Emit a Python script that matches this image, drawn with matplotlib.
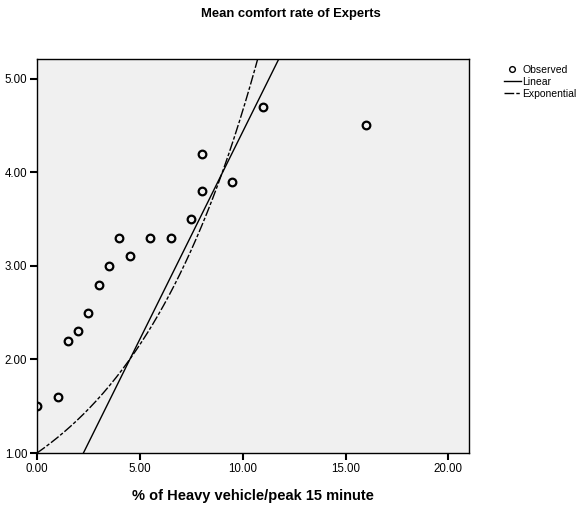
import numpy as np
import matplotlib.pyplot as plt

plt.rcParams['font.family'] = ['Liberation Sans', 'DejaVu Sans']

# % heavy vehicles in peak 15 minutes vs. mean comfort rating given by experts
heavy_pct = np.array([0, 1, 1.5, 2, 2.5, 3, 3.5, 4, 4.5, 5.5, 6.5, 7.5, 8, 8, 9.5, 11, 16])
comfort = np.array([1.5, 1.6, 2.2, 2.3, 2.5, 2.8, 3.0, 3.3, 3.1, 3.3, 3.3, 3.5, 3.8, 4.2, 3.9, 4.7, 4.5])

x_ticks = [0, 5, 10, 15, 20]
y_ticks = [1, 2, 3, 4, 5]

# curve estimation without constant term: y = b*x and y = exp(b*x)
b_lin = np.sum(heavy_pct * comfort) / np.sum(heavy_pct ** 2)
b_exp = np.sum(heavy_pct * np.log(comfort)) / np.sum(heavy_pct ** 2)

xs = np.linspace(0, 21, 400)

fig = plt.figure(figsize=(5.82, 5.11), dpi=100)
ax = fig.add_axes([0.0636, 0.1135, 0.7422, 0.771])
ax.set_facecolor('#f0f0f0')

ax.plot(heavy_pct, comfort, 'o', ms=5.5, mfc='none', mec='black', mew=1.6,
        label='Observed', zorder=3)
ax.plot(xs, b_lin * xs, color='black', lw=1.0, label='Linear')
ax.plot(xs, np.exp(b_exp * xs), color='black', lw=1.0,
        dashes=(7, 1.5, 2.5, 1.5), label='Exponential')

ax.set_xlim(0, 21)
ax.set_ylim(1, 5.21)
ax.set_xticks(x_ticks)
ax.set_yticks(y_ticks)
ax.set_xticklabels([f'{v:.2f}' for v in x_ticks])
ax.set_yticklabels([f'{v:.2f}' for v in y_ticks])
ax.tick_params(direction='out', length=5, width=1.5, labelsize=8.3, pad=2)
for s in ax.spines.values():
    s.set_linewidth(1.0)

ax.set_xlabel('% of Heavy vehicle/peak 15 minute', fontsize=10.5, fontweight='bold',
              labelpad=10)
fig.text(0.5, 0.972, 'Mean comfort rate of Experts', ha='center', va='center',
         fontsize=9.4, fontweight='bold')

leg = ax.legend(loc='upper left', bbox_to_anchor=(0.866, 0.873),
                bbox_transform=fig.transFigure, frameon=False,
                fontsize=7.5, handlelength=1.6, handletextpad=0.15,
                labelspacing=0.2, borderaxespad=0, borderpad=0, markerscale=0.75)
leg.legend_handles[0].set_markeredgewidth(1.0)

fig.savefig('out.png', dpi=100)
